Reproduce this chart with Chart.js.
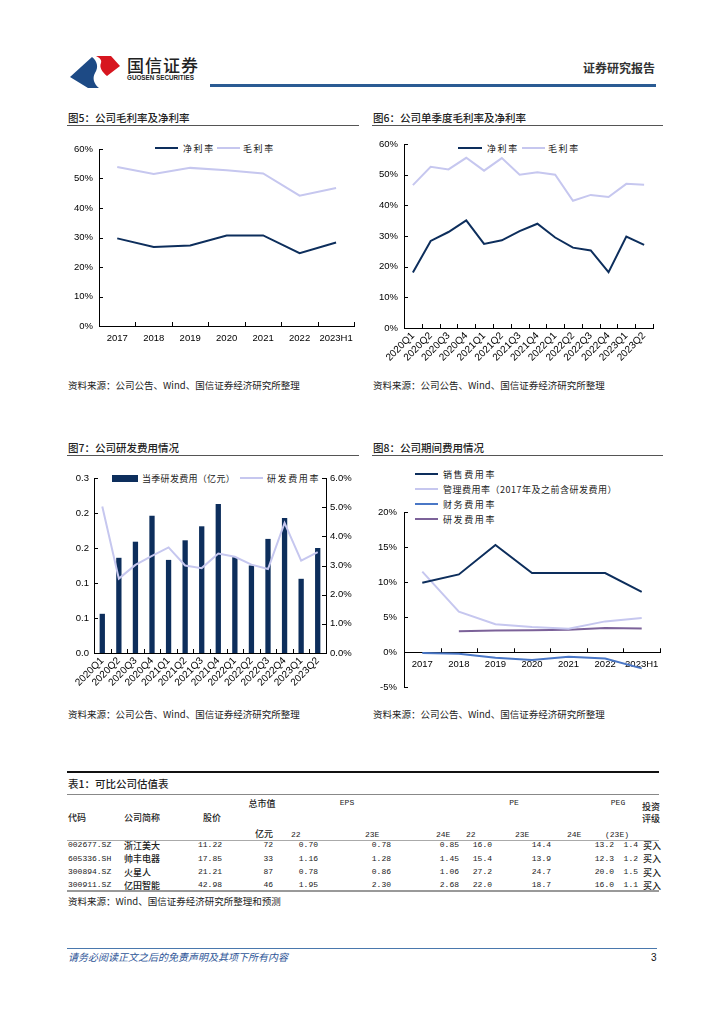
<!DOCTYPE html>
<html><head><meta charset="utf-8">
<script src="https://cdn.jsdelivr.net/npm/chart.js@4.4.0/dist/chart.umd.min.js"></script>
<style>
html,body{margin:0;padding:0;background:#fff}
body{width:724px;height:1024px;position:relative;overflow:hidden;font-family:"Noto Sans CJK SC","Noto Sans",sans-serif;color:#222}
.abs{position:absolute;white-space:nowrap}
.box{position:absolute}
.box canvas{display:block}
</style></head><body>
<script>
// ---------------- DATA ----------------
const years = ['2017','2018','2019','2020','2021','2022','2023H1'];
const netMarginYear = [29.7, 26.8, 27.3, 30.7, 30.7, 24.7, 28.3];
const grossMarginYear = [53.9, 51.5, 53.6, 52.8, 51.7, 44.2, 46.8];

const quarters = ['2020Q1','2020Q2','2020Q3','2020Q4','2021Q1','2021Q2','2021Q3','2021Q4','2022Q1','2022Q2','2022Q3','2022Q4','2023Q1','2023Q2'];
const netMarginQ = [18.1, 28.4, 31.3, 35.1, 27.4, 28.6, 31.6, 34.0, 29.5, 26.2, 25.3, 18.2, 29.8, 27.1];
const grossMarginQ = [46.6, 52.6, 51.7, 55.5, 51.3, 55.4, 50.0, 50.8, 50.0, 41.5, 43.4, 42.7, 47.0, 46.7];

const rdExpenseQ = [0.056, 0.136, 0.159, 0.196, 0.133, 0.161, 0.181, 0.213, 0.137, 0.125, 0.163, 0.193, 0.106, 0.150];
const rdRateQ = [5.02, 2.55, 3.02, 3.33, 3.62, 3.00, 2.91, 3.41, 3.30, 3.03, 2.88, 4.46, 3.17, 3.46];
const rdLeftTickValues = [0, 0.05, 0.10, 0.15, 0.20, 0.25];
const rdLeftTickLabels = ['0.0','0.1','0.1','0.2','0.2','0.3'];

const salesRate = [9.9, 11.1, 15.3, 11.3, 11.3, 11.3, 8.6];
const adminRate = [11.5, 5.8, 4.0, 3.6, 3.35, 4.4, 4.9];
const financeRate = [-0.1, -0.2, -0.8, -1.1, -0.65, -0.9, -2.3];
const rdRateYear = [null, 3.0, 3.1, 3.15, 3.2, 3.45, 3.4];

const seriesNames5 = ['净利率','毛利率'];
const seriesNames7 = ['当季研发费用（亿元）','研发费用率'];
const seriesNames8 = ['销售费用率','管理费用率（2017年及之前含研发费用）','财务费用率','研发费用率'];

const tblCodes = ['002677.SZ','605336.SH','300894.SZ','300911.SZ'];
const tblNames = ['浙江美大','帅丰电器','火星人','亿田智能'];
const tblPrice = ['11.22','17.85','21.21','42.98'];
const tblMcap = ['72','33','87','46'];
const tblEps22 = ['0.70','1.16','0.78','1.95'];
const tblEps23 = ['0.78','1.28','0.86','2.30'];
const tblEps24 = ['0.85','1.45','1.06','2.68'];
const tblPe22 = ['16.0','15.4','27.2','22.0'];
const tblPe23 = ['14.4','13.9','24.7','18.7'];
const tblPe24 = ['13.2','12.3','20.0','16.0'];
const tblPeg = ['1.4','1.2','1.5','1.1'];
const tblRating = ['买入','买入','买入','买入'];

// ---------------- STYLE ----------------
const NAVY = '#0d2e5c';
const LAV = '#c6c7ef';
const FIN = '#4a77c6';
const PURP = '#7c6299';
const CJK = '"Noto Sans CJK SC","Noto Sans",sans-serif';
const MONO = '"Liberation Mono","Noto Sans CJK SC",monospace';
const TICKFONT = {family:'"Liberation Sans",Arial,sans-serif', size:9.5};
const ROTFONT = {family:'"Liberation Sans",Arial,sans-serif', size:10};

const body = document.body;
function txt(s, x, y, o = {}) {
  const d = document.createElement('div');
  d.className = 'abs';
  d.textContent = s;
  const fs = o.size || 10;
  d.style.fontSize = fs + 'px';
  d.style.lineHeight = fs + 'px';
  d.style.top = (y - fs / 2) + 'px';
  d.style.fontFamily = o.family || CJK;
  d.style.color = o.color || '#222';
  if (o.weight) d.style.fontWeight = o.weight;
  if (o.ls) d.style.letterSpacing = o.ls + 'px';
  if (o.italic) d.style.fontStyle = 'italic';
  if (o.align === 'right') d.style.right = (724 - x) + 'px';
  else if (o.align === 'center') { d.style.left = x + 'px'; d.style.transform = 'translateX(-50%)'; }
  else d.style.left = x + 'px';
  body.appendChild(d);
  return d;
}
function rect(x, y, w, h, c) {
  const d = document.createElement('div');
  d.className = 'abs';
  Object.assign(d.style, {left:x+'px', top:y+'px', width:w+'px', height:h+'px', background:c});
  body.appendChild(d);
}
function canvasBox(x, y, w, h) {
  const d = document.createElement('div');
  d.className = 'box';
  Object.assign(d.style, {left:x+'px', top:y+'px', width:w+'px', height:h+'px'});
  const c = document.createElement('canvas');
  c.width = w; c.height = h;
  c.style.width = w + 'px'; c.style.height = h + 'px';
  d.appendChild(c);
  body.appendChild(d);
  return c;
}

// ---------------- HEADER ----------------
body.insertAdjacentHTML('beforeend',
 '<svg class="abs" style="left:0;top:0" width="724" height="100">' +
 '<path d="M70,77 L92,57 C97,61 99,67 95,73 C92,78 94,84 99,88 L88,88 Z" fill="#1d4a85"/>' +
 '<path d="M96,56 L111,56 L120,66 L107,76 C102,72 99,67 101,63 C102,60 100,58 96,56 Z" fill="#d7161f"/>' +
 '</svg>');
txt('国信证券', 127, 64, {size:17, color:'#222', weight:500, ls:1});
txt('GUOSEN SECURITIES', 127, 78, {size:6.3, color:'#222', weight:700, family:'"Liberation Sans",Arial,sans-serif'});
txt('证券研究报告', 583, 68, {size:12, color:'#333', weight:700});
rect(210, 84, 446, 2.5, '#2a5b93');

// ---------------- TITLES / RULES ----------------
const TTL = {size:10.5, weight:500};
const SRC1 = 386, SRC2 = 715;
txt('图5：公司毛利率及净利率', 68, 118, TTL);
rect(67, 125, 292, 1, '#555');
txt('图6：公司单季度毛利率及净利率', 373, 118, TTL);
rect(372, 125, 291, 1, '#555');
txt('资料来源：公司公告、Wind、国信证券经济研究所整理', 68, SRC1, {size:9.5});
txt('资料来源：公司公告、Wind、国信证券经济研究所整理', 373, SRC1, {size:9.5});

txt('图7：公司研发费用情况', 68, 448, TTL);
rect(67, 455, 292, 1, '#555');
txt('图8：公司期间费用情况', 373, 448, TTL);
rect(372, 455, 291, 1, '#555');
txt('资料来源：公司公告、Wind、国信证券经济研究所整理', 68, SRC2, {size:9.5});
txt('资料来源：公司公告、Wind、国信证券经济研究所整理', 373, SRC2, {size:9.5});

// ---------------- LEGENDS ----------------
const LEGFS = 9, LEGLS = 1.6;
rect(155, 146.5, 23, 2.5, NAVY); txt(seriesNames5[0], 183, 148, {size:LEGFS, ls:LEGLS});
rect(217, 146.5, 23, 2.5, LAV); txt(seriesNames5[1], 243, 148, {size:LEGFS, ls:LEGLS});
rect(458, 146.5, 24, 2.5, NAVY); txt(seriesNames5[0], 487, 148, {size:LEGFS, ls:LEGLS});
rect(522, 146.5, 23, 2.5, LAV); txt(seriesNames5[1], 548, 148, {size:LEGFS, ls:LEGLS});
rect(112, 475, 26, 7, NAVY); txt(seriesNames7[0], 142, 478.5, {size:LEGFS, ls:0.3});
rect(240, 477, 23, 2, LAV); txt(seriesNames7[1], 267, 478.5, {size:LEGFS, ls:LEGLS});
const leg8Colors = [NAVY, LAV, FIN, PURP];
const leg8Y = [474, 489, 504, 519];
seriesNames8.forEach((n, i) => {
  rect(415, leg8Y[i] - 1.25, 23, 2.5, leg8Colors[i]);
  txt(n, 443, leg8Y[i] + 0.5, {size:LEGFS, ls:i === 1 ? 0.5 : LEGLS});
});

// ---------------- CHART HELPERS ----------------
const innerTicks = {
  id: 'innerTicks',
  afterDraw(chart) {
    const ctx = chart.ctx, L = 4;
    ctx.save(); ctx.strokeStyle = '#000'; ctx.lineWidth = 1;
    for (const id in chart.scales) {
      const s = chart.scales[id];
      if (s.axis === 'y') {
        const right = s.position === 'right';
        const x0 = right ? s.left : s.right;
        s.ticks.forEach(t => {
          const y = Math.round(s.getPixelForValue(t.value)) + 0.5;
          ctx.beginPath(); ctx.moveTo(x0, y); ctx.lineTo(x0 + (right ? -L : L), y); ctx.stroke();
        });
      } else {
        const pos = s.options.position;
        const y0 = (typeof pos === 'object') ? chart.scales.y.getPixelForValue(pos.y) : s.top;
        const n = chart.data.labels.length;
        for (let i = 0; i <= n; i++) {
          const x = Math.round(s.getPixelForValue(i - 0.5)) + 0.5;
          ctx.beginPath(); ctx.moveTo(x, y0); ctx.lineTo(x, y0 - L); ctx.stroke();
        }
      }
    }
    ctx.restore();
  }
};
const noGrid = {display:false, drawTicks:false};
const border = {display:true, color:'#000', width:1};
const basePlugins = {legend:{display:false}, tooltip:{enabled:false}};

// ---------------- CHART 5 ----------------
new Chart(canvasBox(60, 135, 300, 215), {
  type: 'line',
  data: {labels: years, datasets: [
    {label: seriesNames5[0], data: netMarginYear, borderColor: NAVY, borderWidth: 2, pointRadius: 0, tension: 0},
    {label: seriesNames5[1], data: grossMarginYear, borderColor: LAV, borderWidth: 2, pointRadius: 0, tension: 0}
  ]},
  options: {
    responsive: false, animation: false,
    layout: {padding: {top: 14, right: 4, left: 0, bottom: 0}},
    plugins: basePlugins,
    scales: {
      x: {offset: true, grid: noGrid, border, ticks: {font: TICKFONT, color: '#000', padding: 7, maxRotation: 0, autoSkip: false}, afterFit(s) { s.height = 24; }},
      y: {min: 0, max: 60, grid: noGrid, border, ticks: {font: TICKFONT, color: '#000', stepSize: 10, padding: 6, callback: v => v + '%'}, afterFit(s) { s.width = 39; }}
    }
  },
  plugins: [innerTicks]
});

// ---------------- CHART 6 ----------------
new Chart(canvasBox(365, 130, 300, 245), {
  type: 'line',
  data: {labels: quarters, datasets: [
    {label: seriesNames5[0], data: netMarginQ, borderColor: NAVY, borderWidth: 2, pointRadius: 0, tension: 0},
    {label: seriesNames5[1], data: grossMarginQ, borderColor: LAV, borderWidth: 2, pointRadius: 0, tension: 0}
  ]},
  options: {
    responsive: false, animation: false,
    layout: {padding: {top: 14, right: 12, left: 0, bottom: 0}},
    plugins: basePlugins,
    scales: {
      x: {offset: true, grid: noGrid, border, ticks: {font: ROTFONT, color: '#000', padding: 2, minRotation: 45, maxRotation: 45, autoSkip: false}, afterFit(s) { s.height = 47; }},
      y: {min: 0, max: 60, grid: noGrid, border, ticks: {font: TICKFONT, color: '#000', stepSize: 10, padding: 6, callback: v => v + '%'}, afterFit(s) { s.width = 39; }}
    }
  },
  plugins: [innerTicks]
});

// ---------------- CHART 7 ----------------
new Chart(canvasBox(60, 465, 300, 240), {
  type: 'bar',
  data: {labels: quarters, datasets: [
    {type: 'line', label: seriesNames7[1], data: rdRateQ, yAxisID: 'y1', borderColor: LAV, borderWidth: 2, pointRadius: 0, tension: 0, order: 0},
    {type: 'bar', label: seriesNames7[0], data: rdExpenseQ, yAxisID: 'y', backgroundColor: NAVY, barPercentage: 0.32, categoryPercentage: 1, order: 1}
  ]},
  options: {
    responsive: false, animation: false,
    layout: {padding: {top: 13, right: 0, left: 0, bottom: 0}},
    plugins: basePlugins,
    scales: {
      x: {offset: true, grid: noGrid, border, ticks: {font: ROTFONT, color: '#000', padding: 2, minRotation: 45, maxRotation: 45, autoSkip: false}, afterFit(s) { s.height = 52; }},
      y: {position: 'left', min: 0, max: 0.25, grid: noGrid, border,
          afterBuildTicks(s) { s.ticks = rdLeftTickValues.map(v => ({value: v})); },
          ticks: {font: TICKFONT, color: '#000', padding: 5, callback: (v, i) => rdLeftTickLabels[i]},
          afterFit(s) { s.width = 34; }},
      y1: {position: 'right', min: 0, max: 6, grid: noGrid, border,
          ticks: {font: TICKFONT, color: '#000', stepSize: 1, padding: 4, callback: v => v.toFixed(1) + '%'},
          afterFit(s) { s.width = 34; }}
    }
  },
  plugins: [innerTicks]
});

// ---------------- CHART 8 ----------------
new Chart(canvasBox(365, 460, 300, 240), {
  type: 'line',
  data: {labels: years, datasets: [
    {label: seriesNames8[0], data: salesRate, borderColor: NAVY, borderWidth: 2, pointRadius: 0, tension: 0},
    {label: seriesNames8[1], data: adminRate, borderColor: LAV, borderWidth: 2, pointRadius: 0, tension: 0},
    {label: seriesNames8[2], data: financeRate, borderColor: FIN, borderWidth: 2, pointRadius: 0, tension: 0},
    {label: seriesNames8[3], data: rdRateYear, borderColor: PURP, borderWidth: 2, pointRadius: 0, tension: 0}
  ]},
  options: {
    responsive: false, animation: false,
    layout: {padding: {top: 52, right: 5, left: 0, bottom: 8}},
    plugins: basePlugins,
    scales: {
      x: {position: {y: 0}, offset: true, grid: noGrid, border, ticks: {font: TICKFONT, color: '#000', padding: 6, maxRotation: 0, autoSkip: false}},
      y: {min: -5, max: 20, grid: noGrid, border, ticks: {font: TICKFONT, color: '#000', stepSize: 5, padding: 7, callback: v => v + '%'}, afterFit(s) { s.width = 39; }}
    }
  },
  plugins: [innerTicks]
});

// ---------------- TABLE ----------------
rect(67, 771, 592, 1.5, '#111');
txt('表1：可比公司估值表', 68, 784, TTL);
rect(67, 794, 592, 1, '#888');
const TH = 9, NF = 8;
txt('总市值', 262, 803, {size:TH, align:'center', weight:500});
txt('EPS', 347, 803, {size:NF, family:MONO, align:'center'});
txt('PE', 514, 803, {size:NF, family:MONO, align:'center'});
txt('PEG', 618, 803, {size:NF, family:MONO, align:'center'});
txt('投资', 651, 806, {size:TH, align:'center', weight:500});
txt('代码', 68, 817, {size:TH, weight:500});
txt('公司简称', 124, 817, {size:TH, weight:500});
txt('股价', 212, 817, {size:TH, align:'center', weight:500});
txt('评级', 651, 818, {size:TH, align:'center', weight:500});
txt('亿元', 264, 833, {size:TH, align:'center', weight:500});
const subHdr = [['22',291],['23E',365],['24E',436],['22',466],['23E',515],['24E',567]];
subHdr.forEach(([s, x]) => txt(s, x, 835, {size:NF, family:MONO}));
txt('(23E)', 617, 835, {size:NF, family:MONO, align:'center'});
rect(67, 840, 592, 1, '#aaa');
const rowY = [845, 858.5, 872, 885];
const numCols = [[tblPrice,222],[tblMcap,273],[tblEps22,318],[tblEps23,391],[tblEps24,459],[tblPe22,492],[tblPe23,551],[tblPe24,614],[tblPeg,638]];
rowY.forEach((y, i) => {
  txt(tblCodes[i], 68, y, {size:NF, family:MONO});
  txt(tblNames[i], 124, y, {size:TH, weight:500});
  numCols.forEach(([arr, x]) => txt(arr[i], x, y, {size:NF, family:MONO, align:'right'}));
  txt(tblRating[i], 643, y, {size:TH, weight:500});
});
rect(67, 890, 592, 2, '#999');
txt('资料来源：Wind、国信证券经济研究所整理和预测', 68, 902, {size:9.5});

// ---------------- FOOTER ----------------
rect(67, 948, 590, 1, '#4a78ad');
txt('请务必阅读正文之后的免责声明及其项下所有内容', 68, 957, {size:10, color:'#2e5597', italic:true});
txt('3', 651, 958, {size:10, color:'#111', family:'"Liberation Sans",Arial,sans-serif'});
</script>
</body></html>
